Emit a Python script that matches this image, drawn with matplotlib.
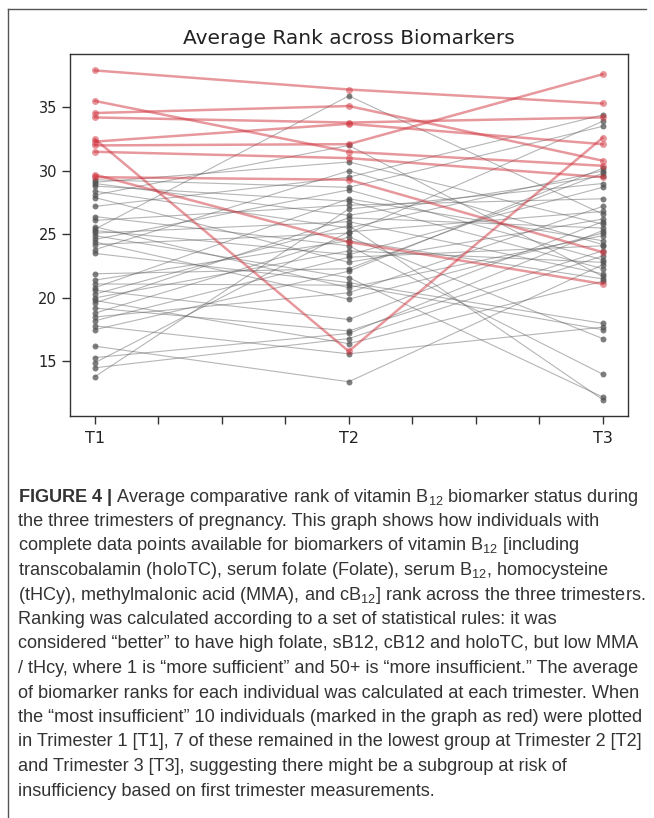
import matplotlib
matplotlib.use('Agg')
import matplotlib.pyplot as plt
from matplotlib.lines import Line2D

# ---------------- data ----------------
trimesters = ['T1', 'T2', 'T3']

# grey individuals (average rank at T1, T2, T3)
grey_t1 = [29.3, 29.1, 29.0, 28.8, 28.4, 28.1, 27.9, 27.2, 26.4, 26.1,
           25.6, 25.4, 25.3, 25.1, 24.9, 24.6, 24.4, 24.2, 23.8, 23.5,
           21.9, 21.4, 21.1, 20.8, 20.6, 20.3, 20.0, 19.8, 19.6, 19.2,
           18.8, 18.5, 18.2, 17.8, 17.5, 16.2, 15.3, 14.9, 14.5, 13.8]
grey_t2 = [28.7, 30.7, 26.5, 27.6, 25.5, 32.0, 22.8, 29.5, 24.1, 27.3,
           20.8, 35.9, 23.4, 26.0, 21.6, 28.5, 19.9, 25.1, 30.0, 21.2,
           22.3, 24.5, 21.0, 27.8, 18.3, 25.7, 23.7, 16.4, 26.3, 17.4,
           24.8, 20.4, 23.2, 15.6, 22.1, 13.4, 17.2, 25.2, 16.8, 27.0]
grey_t3 = [33.5, 25.8, 29.6, 22.3, 30.0, 21.7, 26.2, 34.4, 14.0, 27.8,
           24.9, 26.6, 28.7, 21.9, 12.2, 23.0, 25.1, 33.9, 24.2, 18.0,
           29.8, 21.5, 17.5, 24.5, 26.0, 12.0, 22.8, 21.3, 25.5, 23.7,
           16.8, 27.2, 24.1, 17.7, 30.2, 22.6, 25.3, 26.8, 23.3, 29.0]

# the 10 "most insufficient" individuals at T1 (red)
red_t1 = [37.9, 35.5, 34.55, 34.2, 32.5, 32.3, 32.0, 31.5, 29.7, 29.5]
red_t2 = [36.4, 31.5, 35.1, 33.8, 15.8, 33.7, 32.1, 31.0, 24.4, 29.3]
red_t3 = [35.3, 30.4, 30.8, 34.2, 32.6, 32.1, 37.6, 29.5, 21.1, 23.6]

title = 'Average Rank across Biomarkers'

caption_lines = [
    r'$\mathbf{FIGURE\ 4\ |}$ Average comparative rank of vitamin B$_{12}$ biomarker status during',
    'the three trimesters of pregnancy. This graph shows how individuals with',
    r'complete data points available for biomarkers of vitamin B$_{12}$ [including',
    r'transcobalamin (holoTC), serum folate (Folate), serum B$_{12}$, homocysteine',
    r'(tHCy), methylmalonic acid (MMA), and cB$_{12}$] rank across the three trimesters.',
    'Ranking was calculated according to a set of statistical rules: it was',
    'considered \u201cbetter\u201d to have high folate, sB12, cB12 and holoTC, but low MMA',
    '/ tHcy, where 1 is \u201cmore sufficient\u201d and 50+ is \u201cmore insufficient.\u201d The average',
    'of biomarker ranks for each individual was calculated at each trimester. When',
    'the \u201cmost insufficient\u201d 10 individuals (marked in the graph as red) were plotted',
    'in Trimester 1 [T1], 7 of these remained in the lowest group at Trimester 2 [T2]',
    'and Trimester 3 [T3], suggesting there might be a subgroup at risk of',
    'insufficiency based on first trimester measurements.',
]

# ---------------- figure ----------------
cap_font = 'Liberation Sans'
plt.rcParams['mathtext.fontset'] = 'custom'
plt.rcParams['mathtext.rm'] = cap_font
plt.rcParams['mathtext.bf'] = cap_font + ':bold'
plt.rcParams['mathtext.it'] = cap_font + ':italic'

W, H = 654, 818
fig = plt.figure(figsize=(W / 100, H / 100), dpi=100)


def fx(px):
    return px / W


def fy(py):
    return 1 - py / H


ax = fig.add_axes([fx(69.5), fy(416), (628 - 69.5) / W, (416 - 54) / H])

xpos = [0, 1, 2]
for a, b, c in zip(grey_t1, grey_t2, grey_t3):
    ax.plot(xpos, [a, b, c], color=(0.36, 0.36, 0.36, 0.45), lw=0.8,
            marker='o', ms=4.3, mew=0,
            markerfacecolor=(0.33, 0.33, 0.33, 0.75))
for a, b, c in zip(red_t1, red_t2, red_t3):
    ax.plot(xpos, [a, b, c], color=(0.82, 0.2, 0.24, 0.5), lw=1.8,
            marker='o', ms=5, mew=0)

ticks = [0, 0.25, 0.5, 0.75, 1, 1.25, 1.5, 1.75, 2]
labels = [trimesters[0], '', '', '', trimesters[1], '', '', '', trimesters[2]]
ax.set_xticks(ticks)
ax.set_xticklabels(labels)
ax.set_yticks([15, 20, 25, 30, 35])
ax.tick_params(labelsize=10.5, length=5.5, width=1.0, color='#333333',
               labelcolor='#222222')
ax.tick_params(axis='x', labelsize=11.5, pad=5)
for s in ax.spines.values():
    s.set_color('#333333')
    s.set_linewidth(1.0)
ax.set_title(title, fontsize=14.5, color='#222222', pad=7)

# frame lines of the figure page
frame_col = '#555555'
fig.add_artist(Line2D([fx(8), fx(646)], [fy(9), fy(9)], color=frame_col,
                      lw=1.0, transform=fig.transFigure))
fig.add_artist(Line2D([fx(8), fx(8)], [fy(9), fy(818)], color=frame_col,
                      lw=1.0, transform=fig.transFigure))

# caption: size chosen so that the widest reference line spans ~625 px
renderer = fig.canvas.get_renderer()
probe = fig.text(0, 0, caption_lines[6], fontsize=12, family=cap_font)
w12 = probe.get_window_extent(renderer).width
probe.remove()
cap_size = 12 * 625.0 / w12

y0 = 497
dy = 24.5
for i, line in enumerate(caption_lines):
    fig.text(fx(18), fy(y0 + i * dy), line, ha='left', va='center',
             fontsize=cap_size, family=[cap_font, 'DejaVu Sans'],
             color='#333333')

fig.savefig('out.png', dpi=100)
